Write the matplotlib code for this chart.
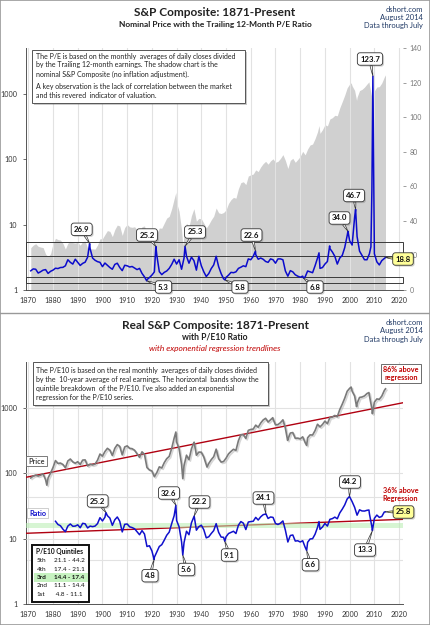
import numpy as np
import matplotlib
matplotlib.use("Agg")
import matplotlib.pyplot as plt
import matplotlib.patheffects as pe
from matplotlib.patches import Rectangle

plt.rcParams['font.family'] = ['Lato', 'DejaVu Sans']

W, H = 430, 625

# ── Data ──────────────────────────────────────────────────────────────────
years = np.arange(1871, 2015)

# nominal S&P composite, January of each year
nominal = [
    4.44, 4.86, 5.11, 4.66, 4.54, 4.46, 3.55, 3.25, 3.58,
    5.11, 6.19, 5.92, 5.81, 5.18, 4.24, 5.20, 5.58, 5.31, 5.24,
    5.38, 4.84, 5.51, 5.61, 4.32, 4.25, 4.27, 4.22, 4.88, 6.08,
    6.10, 7.07, 8.12, 7.90, 6.57, 8.43, 9.87, 9.56, 6.85, 9.06,
    10.08, 9.27, 9.12, 9.30, 8.37, 7.48, 9.33, 9.57, 7.21, 7.85,
    8.83, 7.11, 7.30, 8.90, 8.83, 10.58, 12.65, 13.40, 17.53, 24.86,
    21.71, 15.98, 8.30, 7.09, 10.54, 9.26, 13.76, 17.59, 11.31, 12.50,
    12.30, 10.55, 8.93, 10.09, 11.85, 13.49, 18.02, 15.21, 14.83, 15.36,
    16.88, 21.21, 24.19, 26.18, 25.46, 35.60, 44.15, 45.43, 41.12, 55.62,
    58.03, 59.72, 69.07, 65.06, 76.45, 86.12, 93.32, 84.45, 95.04, 102.0,
    90.31, 93.49, 103.3, 118.4, 96.11, 72.56, 96.86, 103.8, 90.25, 99.71,
    110.9, 133.0, 117.3, 144.3, 166.4, 171.6, 208.2, 264.5, 250.5, 285.4,
    340.0, 325.5, 416.1, 435.2, 473.0, 465.3, 614.4, 766.2, 963.4, 1248.8,
    1425.6, 1335.6, 1140.2, 895.8, 1132.5, 1181.4, 1278.7, 1424.2, 1378.8, 865.6,
    1123.6, 1282.6, 1300.6, 1480.4, 1822.4,
]
nominal_extra_years = [1929.7, 1932.5, 1987.6, 2000.6, 2002.8, 2007.8, 2009.2, 2014.5]
nominal_extra = [31.3, 4.8, 330.0, 1485.0, 800.0, 1540.0, 757.0, 1973.0]

# trailing 12-month P/E
pe_ratio = [
    11.1, 12.2, 12.0, 9.8, 10.6, 11.5, 11.8, 9.6, 10.8,
    11.5, 12.6, 12.4, 13.0, 13.1, 14.0, 17.5, 16.0, 15.0, 17.8,
    16.0, 14.2, 15.4, 16.1, 19.0, 24.0, 18.5, 17.2, 16.4, 16.0,
    13.5, 15.6, 14.3, 13.0, 12.0, 14.8, 15.5, 13.0, 11.2, 14.3,
    14.0, 13.3, 13.6, 12.7, 11.8, 12.5, 9.6, 7.6, 6.0, 7.2,
    8.6, 10.5, 20.0, 10.6, 8.9, 10.2, 11.0, 12.5, 14.8, 17.8,
    15.0, 17.5, 12.0, 18.5, 19.5, 15.5, 19.0, 17.0, 11.5, 19.5,
    14.0, 10.5, 7.8, 9.5, 12.4, 14.5, 19.5, 13.5, 9.5, 6.5,
    7.3, 8.6, 10.2, 10.0, 10.5, 12.5, 13.2, 14.0, 13.5, 18.0,
    17.5, 19.5, 20.5, 17.8, 18.5, 17.8, 16.5, 16.0, 18.0, 17.5,
    15.5, 18.0, 18.0, 17.5, 11.0, 8.0, 11.2, 10.5, 8.8, 8.0,
    7.4, 8.0, 7.6, 11.0, 10.5, 10.0, 14.0, 18.5, 12.5, 13.0,
    15.0, 16.5, 24.0, 22.0, 19.5, 15.0, 18.5, 20.0, 24.5, 31.5,
    28.5, 26.0, 42.0, 31.0, 22.5, 20.0, 17.5, 17.5, 21.0, 58.0,
    21.0, 16.3, 14.5, 17.0, 18.2,
]
pe_extra_years = [1987.6, 1991.9, 2008.6, 2014.5]
pe_extra = [21.5, 25.5, 25.0, 18.8]
pe_peak_years = [1894.8, 1921.6, 1933.4, 1961.9, 1999.3, 2002.4, 2009.4,
                 1917.9, 1949.6, 1981.4]
pe_peaks = [26.9, 25.2, 25.3, 22.6, 34.0, 46.7, 123.7, 5.3, 5.8, 6.8]
pe_current = 18.8
pe_box_lines = [27.6, 19.5, 7.7, 3.9]

# real S&P composite (2014 dollars)
real_price = [
    85, 91, 94, 91, 94, 98, 80, 85, 101,
    123, 157, 142, 144, 137, 122, 155, 166, 150, 143,
    151, 137, 160, 161, 130, 139, 135, 139, 159, 198,
    184, 216, 242, 227, 188, 242, 276, 259, 192, 254,
    264, 242, 239, 226, 199, 176, 214, 195, 123, 113,
    109, 89, 103, 126, 121, 146, 168, 182, 241, 347,
    302, 239, 138, 131, 190, 162, 238, 297, 190, 212,
    211, 178, 135, 142, 162, 180, 235, 168, 149, 152,
    171, 199, 217, 234, 225, 317, 392, 392, 342, 456,
    471, 477, 548, 509, 589, 657, 698, 611, 663, 682,
    554, 559, 598, 661, 491, 331, 415, 422, 344, 347,
    338, 363, 296, 351, 389, 387, 452, 566, 515, 561,
    632, 577, 717, 729, 771, 738, 949, 1147, 1415, 1811,
    2007, 1816, 1533, 1178, 1456, 1479, 1536, 1670, 1547, 976,
    1232, 1381, 1364, 1525, 1853,
]
real_extra_years = [1877.5, 1929.7, 1932.5, 1937.1, 1942.3, 1968.9, 1974.9,
                    1982.6, 2000.6, 2002.8, 2007.8, 2009.2, 2014.5]
real_extra = [66, 430, 83, 300, 125, 712, 320, 268, 2100, 1052, 1730, 820, 1973]

# P/E10 (cyclically adjusted), from 1881
pe10_years = np.arange(1881, 2015)
pe10 = [
    18.5, 16.5, 15.8, 14.0, 12.8, 15.6, 16.8, 15.5, 15.6,
    16.3, 14.7, 17.2, 16.9, 14.6, 15.6, 15.3, 15.6, 17.0, 21.0,
    18.7, 21.3, 22.5, 20.7, 16.0, 19.5, 21.5, 18.5, 12.7, 16.6,
    16.8, 15.2, 14.8, 14.2, 12.8, 11.5, 13.3, 11.8, 7.6, 7.8,
    6.5, 5.2, 6.3, 7.6, 8.1, 9.5, 11.3, 12.6, 17.0, 22.5,
    19.0, 15.2, 9.0, 8.7, 13.0, 11.5, 17.5, 21.6, 13.5, 15.3,
    16.1, 13.7, 10.3, 10.7, 12.0, 13.3, 17.0, 12.5, 10.6, 10.5,
    10.7, 12.0, 12.5, 13.0, 12.0, 16.1, 18.3, 17.3, 13.8, 18.0,
    18.3, 18.5, 21.2, 19.3, 21.6, 23.3, 23.9, 20.4, 21.5, 21.2,
    17.1, 16.5, 17.3, 18.7, 13.5, 8.9, 11.2, 11.4, 9.2, 9.3,
    8.9, 9.3, 7.4, 8.8, 9.9, 10.0, 11.7, 14.9, 13.9, 15.1,
    17.1, 15.6, 19.8, 20.3, 21.4, 20.2, 24.8, 28.3, 32.9, 40.6,
    43.8, 36.9, 30.3, 22.9, 27.7, 26.6, 26.5, 27.2, 24.0, 15.2,
    20.5, 23.0, 21.2, 21.9, 25.6,
]
pe10_extra_years = [1987.6, 2007.8, 2014.5]
pe10_extra = [18.3, 27.5, 25.8]
pe10_peak_years = [1901.4, 1929.7, 1937.1, 1966.1, 1999.9,
                   1920.9, 1932.5, 1949.5, 1982.6, 2009.2]
pe10_peaks = [25.2, 32.6, 22.2, 24.1, 44.2, 4.8, 5.6, 9.1, 6.6, 13.3]
pe10_current = 25.8

# exponential regression trendlines (read at the plot edges)
trend_years = [1868.95, 2021.7]
price_trend = [87, 1210]
ratio_trend = [12.1, 19.8]

quintile_names = ['5th', '4th', '3rd', '2nd', '1st']
quintile_lo = [21.1, 17.4, 14.4, 11.1, 4.8]
quintile_hi = [44.2, 21.1, 17.4, 14.4, 11.1]

decades = list(range(1870, 2021, 10))


def merge(y0, v0, y1, v1):
    x = np.concatenate([np.asarray(y0, float), np.asarray(y1, float)])
    v = np.concatenate([np.asarray(v0, float), np.asarray(v1, float)])
    order = np.argsort(x, kind="stable")
    return x[order], v[order]


def px(x, y):
    return (x / W, 1 - y / H)


def callout(ax, text, xy, pos, fc="white", fs=5.6):
    t = ax.annotate(text, xy=xy, xytext=px(*pos), textcoords="figure fraction",
                    ha="center", va="center", fontsize=fs, fontweight="bold",
                    color="#111", zorder=10, annotation_clip=False,
                    bbox=dict(boxstyle="round,pad=0.35", fc=fc, ec="#333", lw=0.6),
                    arrowprops=dict(arrowstyle="wedge,tail_width=0.28,shrink_factor=0.6",
                                    fc=fc, ec="#333", lw=0.5, shrinkA=0, shrinkB=0))
    t.get_bbox_patch().set_path_effects([pe.withSimplePatchShadow(offset=(1, -1), alpha=0.25)])
    return t


def style_axis(ax):
    ax.set_yscale("log")
    ax.set_ylim(1, 5080)
    ax.set_xlim(1868.95, 2021.7)
    ax.set_yticks([1, 10, 100, 1000])
    ax.set_yticklabels(["1", "10", "100", "1000"])
    ax.yaxis.set_minor_locator(matplotlib.ticker.NullLocator())
    ax.set_xticks(decades)
    ax.tick_params(axis="both", labelsize=5.2, colors="#333", length=2.5, width=0.5)
    ax.tick_params(axis="x", length=0, pad=5)
    for s in ["top", "right"]:
        ax.spines[s].set_visible(False)
    for s in ["left", "bottom"]:
        ax.spines[s].set_color("#555")
        ax.spines[s].set_linewidth(0.7)
    ax.set_axisbelow(False)
    ax.grid(axis="x", color="#e2e2e2", lw=0.8, zorder=1.5)


fig = plt.figure(figsize=(W / 100, H / 100), dpi=100)
fig.add_artist(Rectangle((0, 0), 1, 1, transform=fig.transFigure, fill=False,
                         ec="#999", lw=1.2))
fig.add_artist(plt.Line2D([0, 1], [1 - 313 / H] * 2, transform=fig.transFigure,
                          color="#999", lw=1.0))

# ── Top panel: nominal price + trailing P/E ───────────────────────────────
ax1 = fig.add_axes([25.7 / W, 1 - 290 / H, 377.6 / W, 242 / H])
style_axis(ax1)
nx, nv = merge(years, nominal, nominal_extra_years, nominal_extra)
ax1.fill_between(nx, 1, nv, color="#d0d0d0", lw=0, zorder=1)

ax1r = ax1.twinx()
ax1r.set_ylim(0, 140)
ax1r.set_yticks(range(0, 141, 20))
ax1r.tick_params(axis="y", labelsize=5.0, colors="#777", length=2.5, width=0.5, pad=2)
for s in ax1r.spines.values():
    s.set_visible(False)
x0, x1 = ax1.get_xlim()
for lo, hi in [(pe_box_lines[1], pe_box_lines[0]), (pe_box_lines[3], pe_box_lines[2])]:
    ax1r.add_patch(Rectangle((x0, lo), x1 - x0, hi - lo, fill=False, ec="#3a3a3a",
                             lw=0.7, zorder=2, clip_on=False))
px_, pv_ = merge(years, pe_ratio, pe_extra_years + pe_peak_years, pe_extra + pe_peaks)
ax1r.plot(px_, pv_, color="#0b0bcc", lw=1.1, zorder=3)

pe_label_pos = [(81.7, 229.3), (147, 235), (195, 232), (251.5, 235), (339.5, 218),
                (354, 195.5), (370, 59), (163.5, 287), (240, 287), (315, 287)]
for yr, v, pos in zip(pe_peak_years, pe_peaks, pe_label_pos):
    callout(ax1r, f"{v:.1f}", (yr, v), pos)
callout(ax1r, f"{pe_current:.1f}", (2014.5, pe_current), (403, 259), fc="#ffff99")

fig.text(*px(215, 12.5), "S&P Composite: 1871-Present", ha="center", va="center",
         fontsize=8.6, fontweight="bold", color="#222")
fig.text(*px(215, 24.5), "Nominal Price with the Trailing 12-Month P/E Ratio",
         ha="center", va="center", fontsize=6.0, fontweight="bold", color="#222")
for yy, s in zip([9, 17.3, 25.7], ["dshort.com", "August 2014", "Data through July"]):
    fig.text(*px(423, yy), s, ha="right", va="center", fontsize=5.4, color="#1f3864")

fig.add_artist(Rectangle(px(32, 103), 213 / W, 53 / H, transform=fig.transFigure,
                         fc="white", ec="#555", lw=0.7, zorder=8,
                         path_effects=[pe.withSimplePatchShadow(offset=(1.5, -1.5), alpha=0.3)]))
top_note = [
    (56, "The P/E is based on the monthly  averages of daily closes divided"),
    (65, "by the Trailing 12-month earnings. The shadow chart is the"),
    (74, "nominal S&P Composite (no inflation adjustment)."),
    (86.7, "A key observation is the lack of correlation between the market"),
    (96, "and this revered  indicator of valuation."),
]
for yy, s in top_note:
    fig.text(*px(35.5, yy), s, ha="left", va="center", fontsize=5.0, color="#222", zorder=9)

# ── Bottom panel: real price + P/E10 ──────────────────────────────────────
ax2 = fig.add_axes([25.7 / W, 1 - 604 / H, 377.6 / W, 242 / H])
style_axis(ax2)
ax2.grid(axis="y", which="major", color="#e2e2e2", lw=0.8)
for lvl in [quintile_lo[4], quintile_hi[0]]:
    ax2.axhline(lvl, color="#e2e2e2", lw=0.8, zorder=1.5)
ax2.axhspan(quintile_lo[2], quintile_hi[2], color="#b6eeb0", alpha=0.55, lw=0, zorder=3)

ax2.plot(trend_years, price_trend, color="#b00010", lw=1.0, zorder=2.6)
ax2.plot(trend_years, ratio_trend, color="#b00010", lw=1.0, zorder=2.6)

rx, rv = merge(years, real_price, real_extra_years, real_extra)
ax2.plot(rx, rv, color="#7a7a7a", lw=1.2, zorder=4,
         path_effects=[pe.SimpleLineShadow(offset=(1, -1), shadow_color="#999", alpha=0.4),
                       pe.Normal()])
qx, qv = merge(pe10_years, pe10, pe10_extra_years + pe10_peak_years, pe10_extra + pe10_peaks)
ax2.plot(qx, qv, color="#1010cc", lw=1.1, zorder=5)

pe10_label_pos = [(97.7, 501), (169, 493), (199.5, 502), (263.5, 498), (350, 482),
                  (150, 575.7), (186.5, 569.5), (229.5, 555), (310.5, 564.7), (365, 550)]
for yr, v, pos in zip(pe10_peak_years, pe10_peaks, pe10_label_pos):
    callout(ax2, f"{v:.1f}", (yr, v), pos)
callout(ax2, f"{pe10_current:.1f}", (2014.5, pe10_current), (403.5, 512), fc="#ffff99")

ax2.text(*px(36.5, 461), "Price", transform=fig.transFigure, ha="center", va="center",
         fontsize=5.2, fontweight="bold", color="#444", zorder=9,
         bbox=dict(boxstyle="square,pad=0.25", fc="white", ec="#666", lw=0.6))
ax2.text(*px(37.5, 513), "Ratio", transform=fig.transFigure, ha="center", va="center",
         fontsize=5.2, fontweight="bold", color="#1010cc", zorder=9,
         bbox=dict(boxstyle="square,pad=0.25", fc="white", ec="#bbb", lw=0.5))

fig.text(*px(401, 373.5), "86% above\nregression", ha="center", va="center",
         fontsize=5.2, fontweight="bold", color="#c00000", linespacing=1.1, zorder=9,
         bbox=dict(boxstyle="square,pad=0.3", fc="white", ec="#555", lw=0.6))
fig.text(*px(400.5, 494.5), "36% above\nRegression", ha="center", va="center",
         fontsize=5.2, fontweight="bold", color="#c00000", linespacing=1.1, zorder=9)

# quintile table
fig.add_artist(Rectangle(px(32, 602), 57 / W, 57 / H, transform=fig.transFigure,
                         fc="white", ec="#111", lw=1.4, zorder=8))
fig.add_artist(Rectangle(px(33.5, 581.7), 54 / W, 9 / H, transform=fig.transFigure,
                         fc="#c6f2c0", lw=0, zorder=8.5))
fig.text(*px(36.5, 551.7), "P/E10 Quintiles", ha="left", va="center", fontsize=4.8,
         fontweight="bold", color="#111", zorder=9)
for i, (nm, lo, hi) in enumerate(zip(quintile_names, quintile_lo, quintile_hi)):
    yy = 560.7 + i * 8.4
    w = "bold" if nm == "3rd" else "normal"
    fig.text(*px(36.5, yy), nm, ha="left", va="center", fontsize=4.6, fontweight=w,
             color="#111", zorder=9)
    fig.text(*px(53.5, yy), f"{lo:4.1f} - {hi:.1f}", ha="left", va="center",
             fontsize=4.6, fontweight=w, color="#111", zorder=9)

fig.text(*px(215, 325.7), "Real S&P Composite: 1871-Present", ha="center", va="center",
         fontsize=8.6, fontweight="bold", color="#222")
fig.text(*px(215, 337.3), "with P/E10 Ratio", ha="center", va="center",
         fontsize=6.2, fontweight="bold", color="#222")
fig.text(*px(215, 349), "with exponential regression trendlines", ha="center",
         va="center", fontsize=6.0, style="italic", color="#c00000")
for yy, s in zip([322.7, 331, 339.7], ["dshort.com", "August 2014", "Data through July"]):
    fig.text(*px(423, yy), s, ha="right", va="center", fontsize=5.4, color="#1f3864")

fig.add_artist(Rectangle(px(33, 405), 235 / W, 43 / H, transform=fig.transFigure,
                         fc="white", ec="#555", lw=0.7, zorder=8,
                         path_effects=[pe.withSimplePatchShadow(offset=(1.5, -1.5), alpha=0.3)]))
bottom_note = [
    (370, "The P/E10 is based on the real monthly  averages of daily closes divided"),
    (379.7, "by the  10-year average of real earnings. The horizontal  bands show the"),
    (388.7, "quintile breakdown  of the P/E10. I've also added an exponential"),
    (397.7, "regression for the P/E10 series."),
]
for yy, s in bottom_note:
    fig.text(*px(36, yy), s, ha="left", va="center", fontsize=5.0, color="#222", zorder=9)

fig.savefig("out.png", dpi=100)
